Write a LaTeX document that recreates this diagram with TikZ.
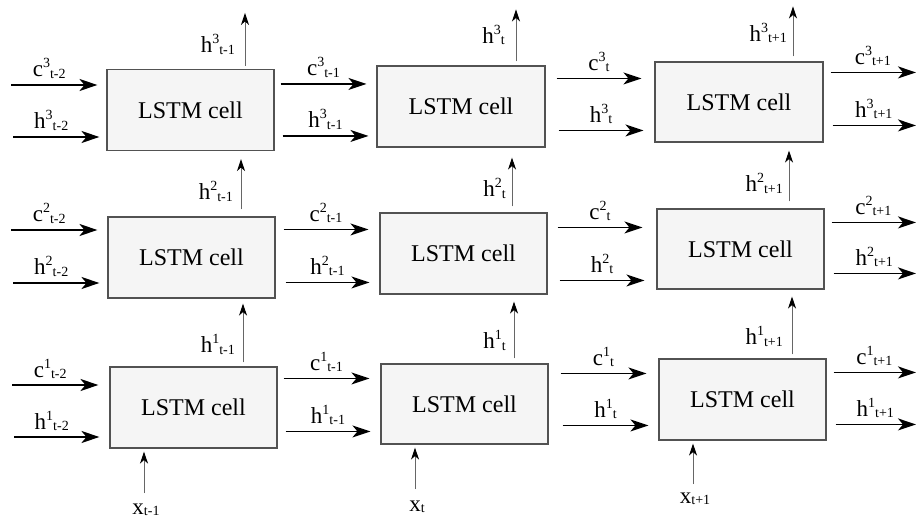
\documentclass[tikz,border=0pt]{standalone}
\usepackage{fontspec}
\setmainfont{Liberation Serif}
\newfontfamily\tms{Liberation Serif}
\usetikzlibrary{arrows.meta,calc}
\newcommand\sps[1]{\raisebox{9pt}{\fontsize{14}{14}\selectfont #1}}
\newcommand\sbs[1]{\raisebox{-1.5pt}{\fontsize{14}{14}\selectfont #1}}
\newcommand\lb[3]{#1\sps{#2}\sbs{#3}}
% horizontal connector between boxes: name, source, dx, dy(down), target, shorten, label
\newcommand\hc[7]{%
  \coordinate (#1) at ([shift={(#3,#4)}]#2.north east);
  \draw[harrow, shorten >=#6pt] (#1) -- node[hlab, xshift=-#6pt/2]{#7} (#1 -| #5.west);}
% input connector: name, x, y, target, shorten, label
\newcommand\ic[6]{%
  \coordinate (#1) at (#2,#3);
  \draw[harrow, shorten >=#5pt] (#1) -- node[hlab, xshift=-#5pt/2-5pt]{#6} (#1 -| #4.west);}
% output connector: name, source, dx, dy, label
\newcommand\oc[5]{%
  \coordinate (#1) at ([shift={(#3,#4)}]#2.north east);
  \draw[harrow, shorten >=1pt] (#1) -- node[hlab, xshift=-1pt]{#5} (#1 -| R);}
% vertical connector: name, source, xshift, yshift(up), target, shorten, label xshift, label
\newcommand\vc[8]{%
  \coordinate (#1) at ([xshift=#3pt, yshift=#4pt]#2.north);
  \draw[varrow, shorten >=#6pt] (#1) -- (#1 |- #5.south);
  \node[lab, anchor=base east] at ([xshift=#7pt, yshift=9.5pt]#1) {#8};}
% top output: name, source, xshift, yshift, length, label xshift, label yshift, label
\newcommand\tc[8]{%
  \coordinate (#1) at ([xshift=#3pt, yshift=#4pt]#2.north);
  \coordinate (#1e) at ([yshift=#5pt]#1);
  \draw[varrow] (#1) -- (#1e);
  \node[lab, anchor=base east] at ([xshift=#6pt, yshift=#7pt]#1) {#8};}
% x input: name, x, y, target, label yshift, label
\newcommand\xc[6]{%
  \coordinate (#1) at (#2,#3);
  \draw[varrow, shorten >=3pt] (#1) -- (#1 |- #4.south);
  \node[lab, anchor=base] at ([xshift=2pt, yshift=-#5pt]#1) {#6};}
\begin{document}
\begin{tikzpicture}[x=1pt,y=-1pt,
  cell/.style={draw=black!68, fill=black!4, line width=1.1pt, minimum width=167pt,
    minimum height=81pt, inner sep=0pt, font=\tms\fontsize{24}{24}\selectfont},
  harrow/.style={line width=1.7pt, -{Stealth[length=18pt,width=12pt,inset=5pt]}},
  varrow/.style={draw=black!60, line width=1pt, -{Stealth[length=12pt,width=8pt,inset=3.5pt,color=black]}},
  lab/.style={font=\tms\fontsize{23}{23}\selectfont, inner sep=0pt, anchor=base},
  hlab/.style={lab, yshift=8pt}]
\useasboundingbox[fill=white] (0,0) rectangle (917,518);
\coordinate (R) at (917,0);
% cells
\node[cell] (A1) at (190.5,110) {LSTM cell};
\node[cell] (A2) at (191.5,257.5) {LSTM cell};
\node[cell] (A3) at (193.5,407.5) {LSTM cell};
\node[cell, minimum width=168pt] (B1) at (461,106.5) {LSTM cell};
\node[cell] (B2) at (463.5,253.5) {LSTM cell};
\node[cell, minimum height=80pt] (B3) at (464.5,404) {LSTM cell};
\node[cell, minimum width=168pt, minimum height=80pt] (C1) at (739,102) {LSTM cell};
\node[cell, minimum height=80pt] (C2) at (740.5,249) {LSTM cell};
\node[cell] (C3) at (742.5,399.5) {LSTM cell};
% inputs from the left
\ic{iA1c}{11}{85}{A1}{9}{\lb{c}{3}{t-2}}
\ic{iA1h}{13}{137}{A1}{7}{\lb{h}{3}{t-2}}
\ic{iA2c}{11}{230}{A2}{10}{\lb{c}{2}{t-2}}
\ic{iA2h}{13}{283}{A2}{8}{\lb{h}{2}{t-2}}
\ic{iA3c}{12}{385}{A3}{11}{\lb{c}{1}{t-2}}
\ic{iA3h}{14}{437}{A3}{10}{\lb{h}{1}{t-2}}
% column 1 -> column 2
\hc{A1c}{A1}{6}{15}{B1}{10}{\lb{c}{3}{t-1}}
\hc{A1h}{A1}{8}{67}{B1}{8}{\lb{h}{3}{t-1}}
\hc{A2c}{A2}{8}{13}{B2}{11}{\lb{c}{2}{t-1}}
\hc{A2h}{A2}{10}{66}{B2}{10}{\lb{h}{2}{t-1}}
\hc{A3c}{A3}{6}{12}{B3}{11}{\lb{c}{1}{t-1}}
\hc{A3h}{A3}{8}{65}{B3}{10}{\lb{h}{1}{t-1}}
% column 2 -> column 3
\hc{B1c}{B1}{11}{13}{C1}{13}{\lb{c}{3}{t}}
\hc{B1h}{B1}{13}{65}{C1}{11}{\lb{h}{3}{t}}
\hc{B2c}{B2}{10}{15}{C2}{14}{\lb{c}{2}{t}}
\hc{B2h}{B2}{12}{68}{C2}{12}{\lb{h}{2}{t}}
\hc{B3c}{B3}{12}{10}{C3}{12}{\lb{c}{1}{t}}
\hc{B3h}{B3}{14}{62}{C3}{10}{\lb{h}{1}{t}}
% outputs to the right
\oc{C1c}{C1}{7}{11}{\lb{c}{3}{t+1}}
\oc{C1h}{C1}{9}{64}{\lb{h}{3}{t+1}}
\oc{C2c}{C2}{7}{14}{\lb{c}{2}{t+1}}
\oc{C2h}{C2}{9}{65}{\lb{h}{2}{t+1}}
\oc{C3c}{C3}{7}{14}{\lb{c}{1}{t+1}}
\oc{C3h}{C3}{9}{66}{\lb{h}{1}{t+1}}
% vertical connectors between layers
\vc{vA2}{A2}{49.5}{7}{A1}{8}{-8}{\lb{h}{2}{t-1}}
\vc{vA3}{A3}{49.5}{4}{A2}{5}{-8}{\lb{h}{1}{t-1}}
\vc{vB2}{B2}{48.5}{6}{B1}{10}{-6}{\lb{h}{2}{t}}
\vc{vB3}{B3}{49.5}{5}{B2}{7}{-8}{\lb{h}{1}{t}}
\vc{vC2}{C2}{48.5}{7}{C1}{8}{-6}{\lb{h}{2}{t+1}}
\vc{vC3}{C3}{49.5}{4}{C2}{7}{-9}{\lb{h}{1}{t+1}}
% top outputs
\tc{tA}{A1}{54.5}{3}{53}{-10}{13}{\lb{h}{3}{t-1}}
\tc{tB}{B1}{55}{4}{52}{-11}{18}{\lb{h}{3}{t}}
\tc{tC}{C1}{54}{5}{50}{-6}{15}{\lb{h}{3}{t+1}}
% x inputs
\xc{xA}{144}{493}{A3}{21}{x\sbs{t-1}}
\xc{xB}{415}{489}{B3}{22}{x\sbs{t}}
\xc{xC}{693}{484}{C3}{19}{x\sbs{t+1}}
\end{tikzpicture}
\end{document}
